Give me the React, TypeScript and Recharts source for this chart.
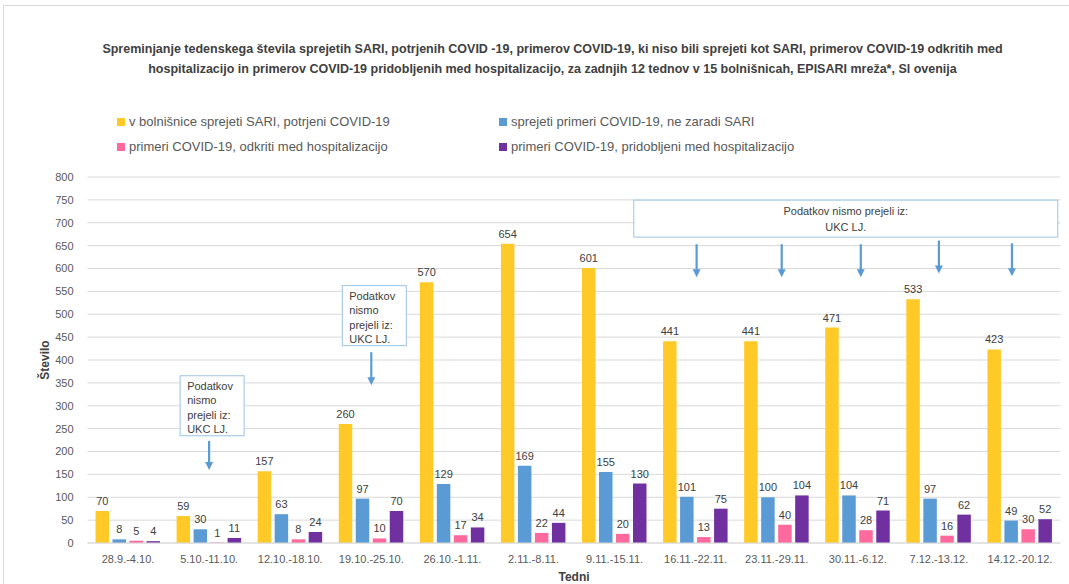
import React from 'react';
import { BarChart, Bar, XAxis, YAxis, CartesianGrid, LabelList, ReferenceDot } from 'recharts';

const categories = ["28.9.-4.10.", "5.10.-11.10.", "12.10.-18.10.", "19.10.-25.10.", "26.10.-1.11.", "2.11.-8.11.", "9.11.-15.11.", "16.11.-22.11.", "23.11.-29.11.", "30.11.-6.12.", "7.12.-13.12.", "14.12.-20.12."];
const sariConfirmed = [70, 59, 157, 260, 570, 654, 601, 441, 441, 471, 533, 423];
const notSari = [8, 30, 63, 97, 129, 169, 155, 101, 100, 104, 97, 49];
const detectedInHosp = [5, 1, 8, 10, 17, 22, 20, 13, 40, 28, 16, 30];
const acquiredInHosp = [4, 11, 24, 70, 34, 44, 130, 75, 104, 71, 62, 52];
const yTicks = [0, 50, 100, 150, 200, 250, 300, 350, 400, 450, 500, 550, 600, 650, 700, 750, 800];

const seriesNames = [
  "v bolnišnice sprejeti SARI, potrjeni COVID-19",
  "sprejeti primeri COVID-19, ne zaradi SARI",
  "primeri COVID-19, odkriti med hospitalizacijo",
  "primeri COVID-19, pridobljeni med hospitalizacijo",
];
const colors = ["#FFCA28", "#5B9BD5", "#FF6A9E", "#7030A0"];

const data = categories.map((c, i) => ({
  week: c,
  a: sariConfirmed[i],
  b: notSari[i],
  c: detectedInHosp[i],
  d: acquiredInHosp[i],
}));

const FONT = "'Liberation Sans Narrow', 'Liberation Sans', Arial, sans-serif";
const TXT = "#404040";

const smallBox = (props: any) => {
  const { cx, cy } = props;
  const x = cx - 29;
  const y = cy - 30;
  const lines = ["Podatkov", "nismo", "prejeli iz:", "UKC LJ."];
  return (
    <g>
      <rect x={x} y={y} width={64} height={60} fill="#fff" stroke="#9DC3E6" strokeWidth={1} />
      {lines.map((l, i) => (
        <text key={i} x={x + 7} y={y + 14 + i * 14.5} fontSize={11} fill={TXT} fontFamily={FONT}>{l}</text>
      ))}
    </g>
  );
};

const bigBox = (props: any) => {
  const { cx, cy } = props;
  const x = cx - 12 - 212;
  const y = cy - 18.5;
  return (
    <g>
      <rect x={x} y={y} width={424} height={37} fill="#fff" stroke="#9DC3E6" strokeWidth={1} />
      <text x={x + 212} y={y + 15} fontSize={11} fill={TXT} textAnchor="middle" fontFamily={FONT}>Podatkov nismo prejeli iz:</text>
      <text x={x + 212} y={y + 31} fontSize={11} fill={TXT} textAnchor="middle" fontFamily={FONT}>UKC LJ.</text>
    </g>
  );
};

const arrow = (len: number, dx: number) => (props: any) => {
  const { cx, cy } = props;
  const x = cx + dx;
  return (
    <g>
      <line x1={x} y1={cy} x2={x} y2={cy + len - 6} stroke="#5B9BD5" strokeWidth={2.2} />
      <path d={`M${x - 4},${cy + len - 8} L${x + 4},${cy + len - 8} L${x},${cy + len} Z`} fill="#5B9BD5" />
    </g>
  );
};

const labelStyle = { fill: TXT, fontSize: 11, fontFamily: FONT };

export default function App() {
  return (
    <div style={{ position: 'absolute', left: 0, top: 0, width: 1069, height: 584, background: '#fff', fontFamily: FONT, overflow: 'hidden' }}>
      <div style={{ position: 'absolute', left: 3, top: 5, width: 1080, height: 600, border: '1px solid #D9D9D9', boxSizing: 'border-box' }} />
      <div style={{ position: 'absolute', left: 0, top: 39, width: 1105, textAlign: 'center', fontWeight: 'bold', fontSize: 12.5, color: TXT, lineHeight: '20px' }}>
        Spreminjanje tedenskega števila sprejetih SARI, potrjenih COVID -19, primerov COVID-19, ki niso bili sprejeti kot SARI, primerov COVID-19 odkritih med<br />
        hospitalizacijo in primerov COVID-19 pridobljenih med hospitalizacijo, za zadnjih 12 tednov v 15 bolnišnicah, EPISARI mreža*, Sl ovenija
      </div>
      {seriesNames.map((n, i) => (
        <div key={n} style={{ position: 'absolute', left: i % 2 === 0 ? 117 : 499, top: i < 2 ? 114 : 139, fontSize: 13, color: '#595959', display: 'flex', alignItems: 'center', whiteSpace: 'nowrap' }}>
          <span style={{ display: 'inline-block', width: 8, height: 8, background: colors[i], marginRight: 4 }} />
          {n}
        </div>
      ))}
      <div style={{ position: 'absolute', left: 45, top: 360, transform: 'translate(-50%, -50%) rotate(-90deg)', fontWeight: 'bold', fontSize: 12, color: TXT, whiteSpace: 'nowrap' }}>Število</div>
      <div style={{ position: 'absolute', left: 574, top: 577, transform: 'translate(-50%, -50%)', fontWeight: 'bold', fontSize: 12, color: TXT }}>Tedni</div>
      <div style={{ position: 'absolute', left: 0, top: 0 }}>
        <BarChart width={1069} height={584} data={data} margin={{ top: 177, right: 8.5, bottom: 16, left: 27.5 }} barSize={13.5} barGap={3.5}>
          <CartesianGrid vertical={false} stroke="#D9D9D9" />
          <XAxis dataKey="week" height={25} axisLine={{ stroke: '#D9D9D9' }} tickLine={false} tick={{ fill: '#595959', fontSize: 11, fontFamily: FONT }} tickMargin={6} interval={0} />
          <YAxis width={60} domain={[0, 800]} ticks={yTicks} axisLine={false} tickLine={false} tick={{ fill: '#595959', fontSize: 11, fontFamily: FONT }} tickMargin={8} interval={0} />
          <Bar dataKey="a" fill={colors[0]} isAnimationActive={false}>
            <LabelList dataKey="a" position="top" offset={6} style={labelStyle} />
          </Bar>
          <Bar dataKey="b" fill={colors[1]} isAnimationActive={false}>
            <LabelList dataKey="b" position="top" offset={6} style={labelStyle} />
          </Bar>
          <Bar dataKey="c" fill={colors[2]} isAnimationActive={false}>
            <LabelList dataKey="c" position="top" offset={6} style={labelStyle} />
          </Bar>
          <Bar dataKey="d" fill={colors[3]} isAnimationActive={false}>
            <LabelList dataKey="d" position="top" offset={6} style={labelStyle} />
          </Bar>
          <ReferenceDot x={categories[1]} y={300} shape={smallBox} />
          <ReferenceDot x={categories[1]} y={223} shape={arrow(29, 0)} />
          <ReferenceDot x={categories[3]} y={497} shape={smallBox} />
          <ReferenceDot x={categories[3]} y={417} shape={arrow(33, 0)} />
          <ReferenceDot x={categories[9]} y={709} shape={bigBox} />
          <ReferenceDot x={categories[7]} y={653} shape={arrow(33, 1)} />
          <ReferenceDot x={categories[8]} y={653} shape={arrow(33, 5)} />
          <ReferenceDot x={categories[9]} y={653} shape={arrow(33, 3)} />
          <ReferenceDot x={categories[10]} y={661} shape={arrow(33, 0)} />
          <ReferenceDot x={categories[11]} y={655} shape={arrow(33, -8)} />
        </BarChart>
      </div>
    </div>
  );
}
